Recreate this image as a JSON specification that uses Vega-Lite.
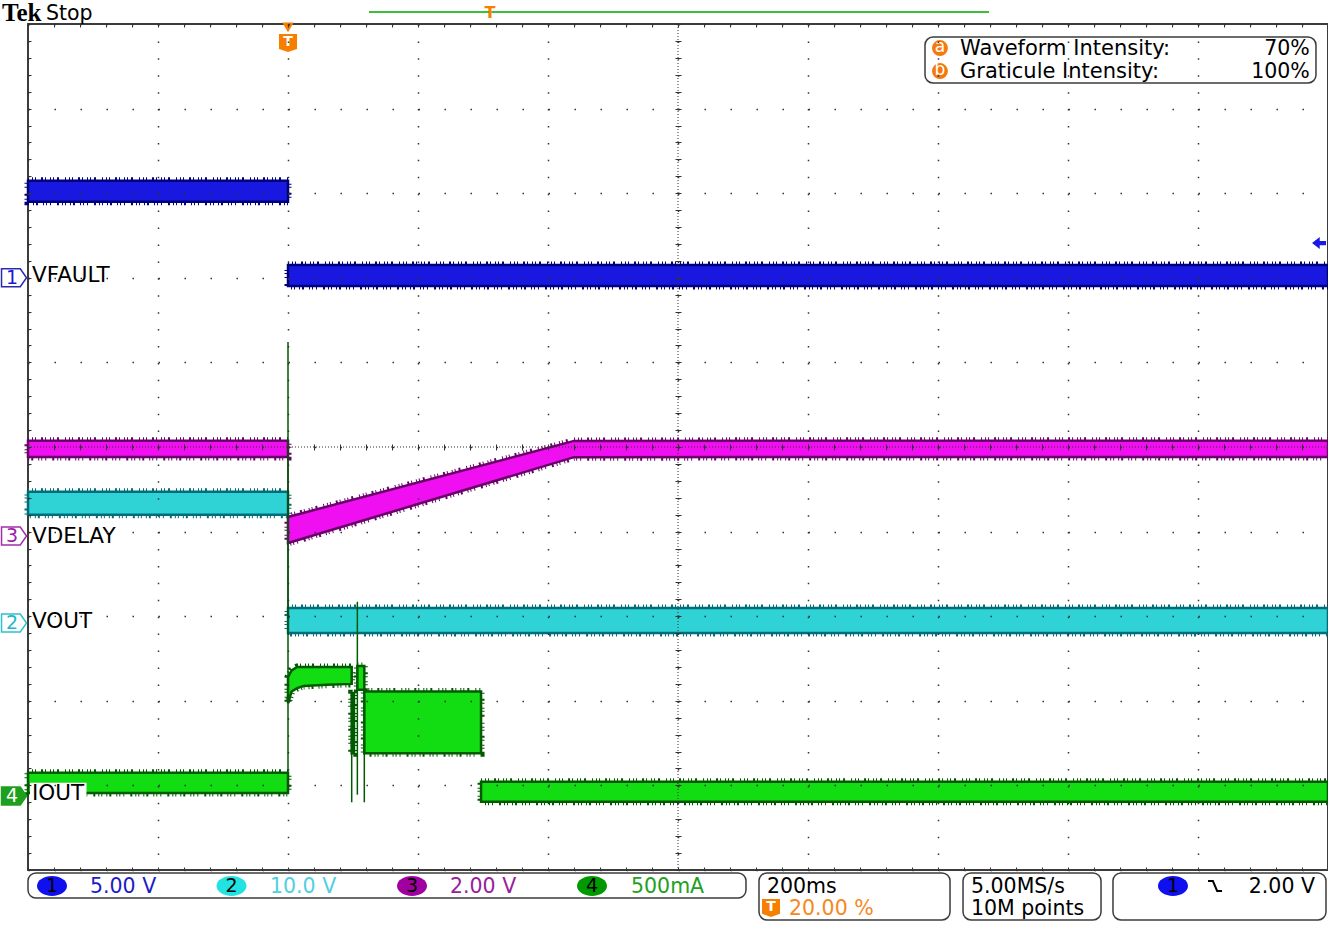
{
  "$schema": "https://vega.github.io/schema/vega-lite/v6.json",
  "width": 1300,
  "height": 846,
  "autosize": "none",
  "padding": {"left": 28, "top": 24, "right": 0, "bottom": 66},
  "background": "white",
  "config": {"view": {"stroke": "#3c3c3c", "strokeWidth": 2}, "font": "DejaVu Sans"},
  "resolve": {"scale": {"fill": "independent", "stroke": "independent", "color": "independent"}, "axis": {"x": "independent", "y": "independent"}},
  "datasets": {
    "one": [{}],
    "traces": [
      {"ch": "1", "seg": "1a", "t": -400, "hi": 3.148, "lo": 2.9},
      {"ch": "1", "seg": "1a", "t": 0, "hi": 3.148, "lo": 2.9},
      {"ch": "1", "seg": "1b", "t": 0, "hi": 2.151, "lo": 1.903},
      {"ch": "1", "seg": "1b", "t": 1600, "hi": 2.151, "lo": 1.903},
      {"ch": "2", "seg": "2a", "t": -400, "hi": -0.53, "lo": -0.8},
      {"ch": "2", "seg": "2a", "t": 0, "hi": -0.53, "lo": -0.8},
      {"ch": "2", "seg": "2b", "t": 0, "hi": -1.903, "lo": -2.199},
      {"ch": "2", "seg": "2b", "t": 1600, "hi": -1.903, "lo": -2.199},
      {"ch": "3", "seg": "3a", "t": -400, "hi": 0.074, "lo": -0.118},
      {"ch": "3", "seg": "3a", "t": 0, "hi": 0.074, "lo": -0.118},
      {"ch": "3", "seg": "3b", "t": 0, "hi": -0.827, "lo": -1.135},
      {"ch": "3", "seg": "3b", "t": 440, "hi": 0.072, "lo": -0.12},
      {"ch": "3", "seg": "3b", "t": 1600, "hi": 0.074, "lo": -0.118},
      {"ch": "4", "seg": "4a", "t": -400, "hi": -3.85, "lo": -4.09},
      {"ch": "4", "seg": "4a", "t": 0, "hi": -3.85, "lo": -4.09},
      {"ch": "4", "seg": "4b", "t": 0, "hi": -2.72, "lo": -3.03},
      {"ch": "4", "seg": "4b", "t": 5.6, "hi": -2.64, "lo": -2.89},
      {"ch": "4", "seg": "4b", "t": 14, "hi": -2.6, "lo": -2.85},
      {"ch": "4", "seg": "4b", "t": 24, "hi": -2.6, "lo": -2.825},
      {"ch": "4", "seg": "4b", "t": 60, "hi": -2.6, "lo": -2.81},
      {"ch": "4", "seg": "4b", "t": 98, "hi": -2.6, "lo": -2.8},
      {"ch": "4", "seg": "4c", "t": 98, "hi": -2.91, "lo": -3.62},
      {"ch": "4", "seg": "4c", "t": 101.5, "hi": -2.91, "lo": -3.62},
      {"ch": "4", "seg": "4d", "t": 106.7, "hi": -2.59, "lo": -2.87},
      {"ch": "4", "seg": "4d", "t": 117.4, "hi": -2.59, "lo": -2.87},
      {"ch": "4", "seg": "4e", "t": 117.4, "hi": -2.89, "lo": -3.62},
      {"ch": "4", "seg": "4e", "t": 297, "hi": -2.89, "lo": -3.62},
      {"ch": "4", "seg": "4f", "t": 297, "hi": -3.956, "lo": -4.193},
      {"ch": "4", "seg": "4f", "t": 1600, "hi": -3.956, "lo": -4.193}
    ],
    "edges": [
      {"ch": "3", "t": 0, "hi": 0.0, "lo": -1.0},
      {"ch": "2", "t": 0, "hi": -0.6, "lo": -2.0},
      {"ch": "4", "t": 0, "hi": 1.24, "lo": -4.05},
      {"ch": "4", "t": 98, "hi": -2.91, "lo": -4.2},
      {"ch": "4", "t": 106.7, "hi": -1.83, "lo": -4.11},
      {"ch": "4", "t": 117.4, "hi": -2.87, "lo": -4.2}
    ],
    "boxes": [
      {"t": -400, "t2": 704.6, "v": -5.035, "v2": -5.331},
      {"t": 724.6, "t2": 1018.5, "v": -5.035, "v2": -5.591},
      {"t": 1038.5, "t2": 1250.8, "v": -5.035, "v2": -5.591},
      {"t": 1269.2, "t2": 1596.9, "v": -5.035, "v2": -5.591},
      {"t": 980, "t2": 1581.5, "v": 4.846, "v2": 4.303}
    ],
    "labels": [
      {"t": -393.8, "v": 2.021, "text": "VFAULT"},
      {"t": -393.8, "v": -1.064, "text": "VDELAY"},
      {"t": -393.8, "v": -2.069, "text": "VOUT"},
      {"t": -393.8, "v": -4.102, "text": "IOUT"}
    ],
    "markers": [
      {"ch": "1", "t": -421.5, "v": 2.0, "d": "1"},
      {"ch": "2", "t": -421.5, "v": -2.08, "d": "2"},
      {"ch": "3", "t": -421.5, "v": -1.052, "d": "3"},
      {"ch": "4", "t": -421.5, "v": -4.125, "d": "4"}
    ],
    "ellipses": [
      {"ch": "1", "t": -363.1, "v": -5.189, "d": "1"},
      {"ch": "2", "t": -86.9, "v": -5.189, "d": "2"},
      {"ch": "3", "t": 190.8, "v": -5.189, "d": "3"},
      {"ch": "4", "t": 467.7, "v": -5.189, "d": "4"},
      {"ch": "1", "t": 1361.5, "v": -5.189, "d": "1"}
    ],
    "readouts": [
      {"ch": "1", "t": -304.6, "v": -5.272, "text": "5.00 V"},
      {"ch": "2", "t": -27.7, "v": -5.272, "text": "10.0 V"},
      {"ch": "3", "t": 249.2, "v": -5.272, "text": "2.00 V"},
      {"ch": "4", "t": 527.7, "v": -5.272, "text": "500mA"}
    ],
    "info": [
      {"t": 736.9, "v": -5.272, "text": "200ms"},
      {"t": 1050.8, "v": -5.272, "text": "5.00MS/s"},
      {"t": 1050.8, "v": -5.532, "text": "10M points"},
      {"t": -372.3, "v": 5.047, "text": "Stop"}
    ],
    "intens": [
      {"t": 1033.8, "v": 4.634, "text": "Waveform Intensity:"},
      {"t": 1033.8, "v": 4.362, "text": "Graticule Intensity:"}
    ],
    "infoR": [
      {"t": 1572, "v": 4.634, "text": "70%"},
      {"t": 1572, "v": 4.362, "text": "100%"},
      {"t": 1580, "v": -5.272, "text": "2.00 V"}
    ],
    "abc": [
      {"t": 1003, "v": 4.716, "d": "a"},
      {"t": 1003, "v": 4.444, "d": "b"}
    ],
    "tmarks": [
      {"t": 743.1, "v": -5.449},
      {"t": 0, "v": 4.775}
    ]
  },
  "layer": [
    {
      "data": {"name": "traces"},
      "mark": {"type": "area", "fillOpacity": 0, "strokeWidth": 7, "strokeDash": [1, 3, 1, 2, 1, 5, 2, 2, 1, 4, 1, 2, 1, 3, 2, 6]},
      "encoding": {
        "x": {"field": "t", "type": "quantitative", "scale": {"domain": [-400, 1600], "nice": false, "zero": false},
          "axis": {"orient": "bottom", "values": [-400, -200, 0, 200, 400, 600, 800, 1000, 1200, 1400, 1600], "grid": true, "gridDash": [1.5, 15.42], "gridColor": "#333333", "gridWidth": 1.5, "domain": false, "ticks": false, "labels": false, "title": null, "zindex": 1}},
        "y": {"field": "hi", "type": "quantitative", "scale": {"domain": [-5, 5], "nice": false, "zero": false},
          "axis": {"orient": "left", "values": [-5, -4, -3, -2, -1, 0, 1, 2, 3, 4, 5], "grid": true, "gridDash": [1.5, 24.5], "gridColor": "#333333", "gridWidth": 1.5, "domain": false, "ticks": false, "labels": false, "title": null, "zindex": 1}},
        "y2": {"field": "lo"},
        "detail": {"field": "seg"},
        "stroke": {"field": "ch", "type": "nominal", "scale": {"domain": ["1", "2", "3", "4"], "range": ["#00007a", "#006e78", "#6a006a", "#005a00"]}, "legend": null}
      }
    },
    {
      "data": {"name": "traces"},
      "mark": {"type": "area", "strokeWidth": 2.5, "fillOpacity": 1},
      "encoding": {
        "x": {"field": "t", "type": "quantitative", "axis": null},
        "y": {"field": "hi", "type": "quantitative", "axis": null},
        "y2": {"field": "lo"},
        "detail": {"field": "seg"},
        "fill": {"field": "ch", "type": "nominal", "scale": {"domain": ["1", "2", "3", "4"], "range": ["#1818e0", "#2fd3d6", "#f00ff0", "#12dc12"]}, "legend": null},
        "stroke": {"field": "ch", "type": "nominal", "scale": {"domain": ["1", "2", "3", "4"], "range": ["#00007a", "#006e78", "#6a006a", "#005a00"]}, "legend": null}
      }
    },
    {
      "data": {"name": "edges"},
      "mark": {"type": "rule", "strokeWidth": 1.5},
      "encoding": {
        "x": {"field": "t", "type": "quantitative",
          "axis": {"orient": "bottom", "values": [-400,-360,-320,-280,-240,-200,-160,-120,-80,-40,0,40,80,120,160,200,240,280,320,360,400,440,480,520,560,600,640,680,720,760,800,840,880,920,960,1000,1040,1080,1120,1160,1200,1240,1280,1320,1360,1400,1440,1480,1520,1560,1600], "grid": false, "domain": false, "ticks": true, "tickSize": -3, "tickColor": "#333333", "tickWidth": 1, "labels": false, "title": null, "zindex": 1}},
        "y": {"field": "hi", "type": "quantitative",
          "axis": {"orient": "left", "values": [-5,-4.8,-4.6,-4.4,-4.2,-4,-3.8,-3.6,-3.4,-3.2,-3,-2.8,-2.6,-2.4,-2.2,-2,-1.8,-1.6,-1.4,-1.2,-1,-0.8,-0.6,-0.4,-0.2,0,0.2,0.4,0.6,0.8,1,1.2,1.4,1.6,1.8,2,2.2,2.4,2.6,2.8,3,3.2,3.4,3.6,3.8,4,4.2,4.4,4.6,4.8,5], "grid": false, "domain": false, "ticks": true, "tickSize": -3, "tickColor": "#333333", "tickWidth": 1, "labels": false, "title": null, "zindex": 1}},
        "y2": {"field": "lo"},
        "stroke": {"field": "ch", "type": "nominal", "scale": {"domain": ["1", "2", "3", "4"], "range": ["#00007a", "#0a3a40", "#3a0a3a", "#005a00"]}, "legend": null}
      }
    },
    {
      "data": {"values": [{"t": 600}]},
      "mark": {"type": "rule", "color": "#333333", "strokeWidth": 1, "strokeDash": [1, 2]},
      "encoding": {
        "x": {"field": "t", "type": "quantitative",
          "axis": {"orient": "bottom", "offset": -426, "values": [-400,-360,-320,-280,-240,-200,-160,-120,-80,-40,0,40,80,120,160,200,240,280,320,360,400,440,480,520,560,600,640,680,720,760,800,840,880,920,960,1000,1040,1080,1120,1160,1200,1240,1280,1320,1360,1400,1440,1480,1520,1560,1600], "grid": false, "domain": false, "ticks": true, "tickSize": 6, "tickColor": "#333333", "tickWidth": 1, "labels": false, "title": null, "zindex": 1}}
      }
    },
    {
      "data": {"values": [{"v": 0}]},
      "mark": {"type": "rule", "color": "#333333", "strokeWidth": 1, "strokeDash": [1, 2]},
      "encoding": {
        "y": {"field": "v", "type": "quantitative",
          "axis": {"orient": "left", "offset": -653, "values": [-5,-4.8,-4.6,-4.4,-4.2,-4,-3.8,-3.6,-3.4,-3.2,-3,-2.8,-2.6,-2.4,-2.2,-2,-1.8,-1.6,-1.4,-1.2,-1,-0.8,-0.6,-0.4,-0.2,0,0.2,0.4,0.6,0.8,1,1.2,1.4,1.6,1.8,2,2.2,2.4,2.6,2.8,3,3.2,3.4,3.6,3.8,4,4.2,4.4,4.6,4.8,5], "grid": false, "domain": false, "ticks": true, "tickSize": 6, "tickColor": "#333333", "tickWidth": 1, "labels": false, "title": null, "zindex": 1}}
      }
    },
    {
      "data": {"name": "boxes"},
      "mark": {"type": "rect", "fill": "white", "stroke": "#3c3c3c", "strokeWidth": 1.5, "cornerRadius": 8},
      "encoding": {
        "x": {"field": "t", "type": "quantitative",
          "axis": {"orient": "top", "values": [-400,-360,-320,-280,-240,-200,-160,-120,-80,-40,0,40,80,120,160,200,240,280,320,360,400,440,480,520,560,600,640,680,720,760,800,840,880,920,960,1000,1040,1080,1120,1160,1200,1240,1280,1320,1360,1400,1440,1480,1520,1560,1600], "grid": false, "domain": false, "ticks": true, "tickSize": -3, "tickColor": "#333333", "tickWidth": 1, "labels": false, "title": null, "zindex": 1}},
        "x2": {"field": "t2"},
        "y": {"field": "v", "type": "quantitative", "axis": null},
        "y2": {"field": "v2"}
      }
    },
    {
      "data": {"name": "one"},
      "mark": {"type": "rect", "fill": "white"},
      "encoding": {
        "x": {"datum": -396.9, "type": "quantitative", "axis": null},
        "x2": {"datum": -310},
        "y": {"datum": -3.97, "type": "quantitative", "axis": null},
        "y2": {"datum": -4.21}
      }
    },
    {
      "data": {"name": "labels"},
      "mark": {"type": "text", "align": "left", "baseline": "middle", "fontSize": 21.5, "font": "DejaVu Sans", "color": "black"},
      "encoding": {
        "x": {"field": "t", "type": "quantitative", "axis": null},
        "y": {"field": "v", "type": "quantitative", "axis": null},
        "text": {"field": "text"}
      }
    },
    {
      "data": {"name": "markers"},
      "mark": {"type": "point", "shape": "M-1,-0.72 L0.5,-0.72 L1,0 L0.5,0.72 L-1,0.72 Z", "size": 625, "filled": true, "strokeWidth": 1.5, "opacity": 1},
      "encoding": {
        "x": {"field": "t", "type": "quantitative", "axis": null},
        "y": {"field": "v", "type": "quantitative", "axis": null},
        "fill": {"field": "ch", "type": "nominal", "scale": {"domain": ["1", "2", "3", "4"], "range": ["white", "white", "white", "#1ea01e"]}, "legend": null},
        "stroke": {"field": "ch", "type": "nominal", "scale": {"domain": ["1", "2", "3", "4"], "range": ["#2a2ab0", "#30c0cc", "#a030a8", "#1ea01e"]}, "legend": null}
      }
    },
    {
      "data": {"name": "markers"},
      "mark": {"type": "text", "align": "center", "baseline": "middle", "fontSize": 19, "dx": -2, "font": "DejaVu Sans"},
      "encoding": {
        "x": {"field": "t", "type": "quantitative", "axis": null},
        "y": {"field": "v", "type": "quantitative", "axis": null},
        "text": {"field": "d"},
        "fill": {"field": "ch", "type": "nominal", "scale": {"domain": ["1", "2", "3", "4"], "range": ["#1a1ad0", "#20b8c8", "#a020a8", "white"]}, "legend": null}
      }
    },
    {
      "data": {"name": "ellipses"},
      "mark": {"type": "point", "shape": "M-1,0 A1,0.66 0 1,1 1,0 A1,0.66 0 1,1 -1,0 Z", "size": 900, "filled": true, "opacity": 1},
      "encoding": {
        "x": {"field": "t", "type": "quantitative", "axis": null},
        "y": {"field": "v", "type": "quantitative", "axis": null},
        "fill": {"field": "ch", "type": "nominal", "scale": {"domain": ["1", "2", "3", "4"], "range": ["#1010ee", "#22e2e2", "#a000a0", "#009a00"]}, "legend": null}
      }
    },
    {
      "data": {"name": "ellipses"},
      "mark": {"type": "text", "align": "center", "baseline": "middle", "fontSize": 19, "font": "DejaVu Sans", "color": "black"},
      "encoding": {
        "x": {"field": "t", "type": "quantitative", "axis": null},
        "y": {"field": "v", "type": "quantitative", "axis": null},
        "text": {"field": "d"}
      }
    },
    {
      "data": {"name": "readouts"},
      "mark": {"type": "text", "align": "left", "baseline": "alphabetic", "fontSize": 20.5, "font": "DejaVu Sans"},
      "encoding": {
        "x": {"field": "t", "type": "quantitative", "axis": null},
        "y": {"field": "v", "type": "quantitative", "axis": null},
        "text": {"field": "text"},
        "fill": {"field": "ch", "type": "nominal", "scale": {"domain": ["1", "2", "3", "4"], "range": ["#1c1cc8", "#50cfe0", "#98209a", "#22a022"]}, "legend": null}
      }
    },
    {
      "data": {"name": "info"},
      "mark": {"type": "text", "align": "left", "baseline": "alphabetic", "fontSize": 20.5, "font": "DejaVu Sans", "color": "black"},
      "encoding": {
        "x": {"field": "t", "type": "quantitative", "axis": null},
        "y": {"field": "v", "type": "quantitative", "axis": null},
        "text": {"field": "text"}
      }
    },
    {
      "data": {"name": "intens"},
      "mark": {"type": "text", "align": "left", "baseline": "alphabetic", "fontSize": 21, "font": "DejaVu Sans", "color": "black"},
      "encoding": {
        "x": {"field": "t", "type": "quantitative", "axis": null},
        "y": {"field": "v", "type": "quantitative", "axis": null},
        "text": {"field": "text"}
      }
    },
    {
      "data": {"name": "infoR"},
      "mark": {"type": "text", "align": "right", "baseline": "alphabetic", "fontSize": 20.5, "font": "DejaVu Sans", "color": "black"},
      "encoding": {
        "x": {"field": "t", "type": "quantitative", "axis": null},
        "y": {"field": "v", "type": "quantitative", "axis": null},
        "text": {"field": "text"}
      }
    },
    {
      "data": {"name": "one"},
      "mark": {"type": "text", "text": "20.00 %", "align": "left", "baseline": "alphabetic", "fontSize": 20.5, "font": "DejaVu Sans", "color": "#f7881c"},
      "encoding": {
        "x": {"datum": 770.8, "type": "quantitative", "axis": null},
        "y": {"datum": -5.532, "type": "quantitative", "axis": null}
      }
    },
    {
      "data": {"name": "abc"},
      "mark": {"type": "point", "shape": "circle", "size": 254, "filled": true, "color": "#f47a10", "opacity": 1},
      "encoding": {
        "x": {"field": "t", "type": "quantitative", "axis": null},
        "y": {"field": "v", "type": "quantitative", "axis": null}
      }
    },
    {
      "data": {"name": "abc"},
      "mark": {"type": "text", "align": "center", "baseline": "middle", "fontSize": 17, "font": "DejaVu Sans", "color": "white", "dy": -1},
      "encoding": {
        "x": {"field": "t", "type": "quantitative", "axis": null},
        "y": {"field": "v", "type": "quantitative", "axis": null},
        "text": {"field": "d"}
      }
    },
    {
      "data": {"name": "tmarks"},
      "mark": {"type": "point", "shape": "M-1,-1 L1,-1 L1,0.65 L0,1 L-1,0.65 Z", "size": 324, "filled": true, "color": "#f77f00", "opacity": 1},
      "encoding": {
        "x": {"field": "t", "type": "quantitative", "axis": null},
        "y": {"field": "v", "type": "quantitative", "axis": null}
      }
    },
    {
      "data": {"name": "tmarks"},
      "mark": {"type": "text", "text": "T", "align": "center", "baseline": "middle", "fontSize": 14, "fontWeight": "bold", "font": "DejaVu Sans", "color": "white", "dy": -1},
      "encoding": {
        "x": {"field": "t", "type": "quantitative", "axis": null},
        "y": {"field": "v", "type": "quantitative", "axis": null}
      }
    },
    {
      "data": {"name": "one"},
      "mark": {"type": "point", "shape": "triangle-down", "size": 130, "filled": true, "color": "#f77f00", "opacity": 1},
      "encoding": {
        "x": {"datum": 0, "type": "quantitative", "axis": null},
        "y": {"datum": 4.96, "type": "quantitative", "axis": null}
      }
    },
    {
      "data": {"name": "one"},
      "mark": {"type": "rule", "color": "#3cc03c", "strokeWidth": 2},
      "encoding": {
        "x": {"datum": 124.6, "type": "quantitative", "axis": null},
        "x2": {"datum": 1078.5},
        "y": {"datum": 5.142, "type": "quantitative", "axis": null}
      }
    },
    {
      "data": {"name": "one"},
      "mark": {"type": "text", "text": "T", "align": "center", "baseline": "middle", "fontSize": 16, "fontWeight": "bold", "font": "DejaVu Sans", "color": "#f77f00"},
      "encoding": {
        "x": {"datum": 310.8, "type": "quantitative", "axis": null},
        "y": {"datum": 5.13, "type": "quantitative", "axis": null}
      }
    },
    {
      "data": {"name": "one"},
      "mark": {"type": "text", "text": "Tek", "align": "left", "baseline": "alphabetic", "fontSize": 25, "fontWeight": "bold", "font": "Liberation Serif", "color": "black"},
      "encoding": {
        "x": {"datum": -440, "type": "quantitative", "axis": null},
        "y": {"datum": 5.035, "type": "quantitative", "axis": null}
      }
    },
    {
      "data": {"name": "one"},
      "mark": {"type": "point", "shape": "M-1,0 L0.1,-0.85 L0.1,-0.3 L1,-0.3 L1,0.3 L0.1,0.3 L0.1,0.85 Z", "size": 196, "filled": true, "color": "#1a1ae8", "opacity": 1},
      "encoding": {
        "x": {"datum": 1586.2, "type": "quantitative", "axis": null},
        "y": {"datum": 2.411, "type": "quantitative", "axis": null}
      }
    },
    {
      "data": {"name": "one"},
      "mark": {"type": "point", "shape": "M-1,-0.7 L-0.3,-0.7 L0.3,0.7 L1,0.7", "size": 196, "filled": false, "color": "black", "strokeWidth": 2, "opacity": 1},
      "encoding": {
        "x": {"datum": 1426.2, "type": "quantitative", "axis": null},
        "y": {"datum": -5.189, "type": "quantitative", "axis": null}
      }
    }
  ]
}
